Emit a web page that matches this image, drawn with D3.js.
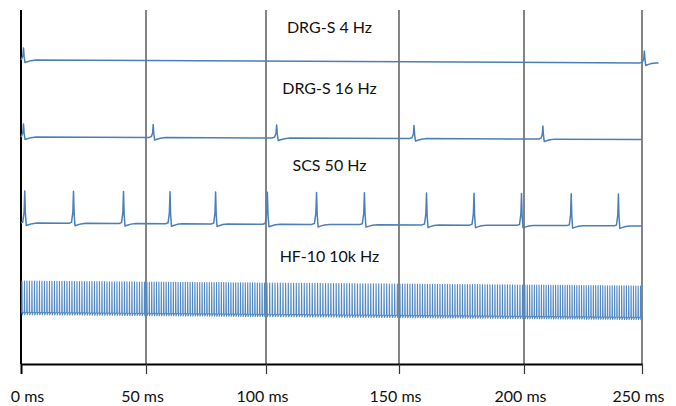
<!DOCTYPE html>
<html>
<head>
<meta charset="utf-8">
<script src="https://cdn.jsdelivr.net/npm/d3@7"></script>
<style>
	html, body { margin: 0; padding: 0; background: #fff; }
	text { font-family: Lato, "Open Sans", sans-serif; fill: #111; }
</style>
</head>
<body>
<svg id="chart" width="676" height="406"></svg>
<script>
// time axis (ms)
const tickValues = [0, 50, 100, 150, 200, 250];
const tickLabels = ['0 ms', '50 ms', '100 ms', '150 ms', '200 ms', '250 ms'];

// waveforms, top to bottom
const traceNames = ['DRG-S 4 Hz', 'DRG-S 16 Hz', 'SCS 50 Hz', 'HF-10 10k Hz'];

// pulse times (ms)
const drg4Spikes = [1, 251];
const drg16Spikes = [1, 53, 104, 156, 208];
const scsSpikes = [1.5, 21, 41, 60, 79, 100.5, 119, 137, 161, 180, 199, 220, 240];
const hfPeriod = 1; // drawn pulse spacing, ms

// trace length (ms), baseline level at start / end and pulse height (arbitrary units)
const traceEnd = [257, 250, 250, 250];
const baseStart = [310, 233, 147, 58];
const baseEnd = [307, 230.5, 144, 53];
const amplitude = [12, 13, 32, 31];

const axisY = 364, gridTop = 10, tickLen = 10;
const traceColor = '#4a7fb8';

const svg = d3.select('#chart');

// the printed grid is hand spaced, so the scale follows it segment by segment
const x = d3.scaleLinear()
	.domain(tickValues)
	.range([21, 146, 266, 399, 524, 642]);

const y = d3.scaleLinear()
	.domain([0, 360])
	.range([370, 10]);

// gridlines
svg.append('g')
	.selectAll('line')
	.data(tickValues)
	.enter()
	.append('line')
	.attr('x1', d => x(d))
	.attr('x2', d => x(d))
	.attr('y1', gridTop)
	.attr('y2', axisY)
	.attr('stroke', (d, i) => i === 0 ? '#000' : '#333')
	.attr('stroke-width', (d, i) => i === 0 ? 2 : 1.2);

// bottom axis
const axis = svg.append('g')
	.attr('transform', `translate(0, ${axisY})`)
	.call(d3.axisBottom(x)
		.tickValues(tickValues)
		.tickFormat((d, i) => tickLabels[i])
		.tickSize(tickLen)
		.tickSizeOuter(0)
		.tickPadding(17));

axis.select('.domain').attr('stroke', '#000').attr('stroke-width', 2);
axis.selectAll('.tick line')
	.attr('stroke', (d, i) => i === 0 ? '#000' : '#333')
	.attr('stroke-width', (d, i) => i === 0 ? 2 : 1.2);
axis.selectAll('.tick text')
	.attr('font-size', 16)
	.attr('font-family', 'Lato, "Open Sans", sans-serif')
	.attr('fill', '#111')
	.attr('dx', (d, i) => i === 0 ? 6 : -4);

// spike outline: [ms offset, share of pulse height, fixed offset]
const spikeShape = [
	[-1.8, 0, 0],
	[-0.8, 0, 0.9],
	[-0.25, 0.35, 0],
	[0, 1, 0],
	[0.25, 0.3, 0],
	[0.6, 0, -2.5],
	[1.5, 0, -1.7],
	[3, 0, -0.6],
	[5, 0, 0]
];

const baseAt = (i, t) => baseStart[i] + (baseEnd[i] - baseStart[i]) * t / traceEnd[i];

const spikePoints = (i, times) => {
	const pts = [[0, baseAt(i, 0)]];
	times.forEach(s => {
		spikeShape.forEach(([dt, k, off]) => {
			const t = s + dt;
			if(t > 0 && t < traceEnd[i]) pts.push([t, baseAt(i, t) + k * amplitude[i] + off]);
		});
	});
	pts.push([traceEnd[i], baseAt(i, traceEnd[i])]);
	return pts.sort((a, b) => a[0] - b[0]);
};

const hfPoints = i => {
	const pts = [[0, baseAt(i, 0)]];
	for(let t = 0.3; t < traceEnd[i]; t += hfPeriod) {
		pts.push([t, baseAt(i, t)]);
		pts.push([t + 0.08, baseAt(i, t) + amplitude[i]]);
		pts.push([t + 0.2, baseAt(i, t) - 2.6]);
		pts.push([t + 0.55, baseAt(i, t) - 0.6]);
	}
	pts.push([traceEnd[i], baseAt(i, traceEnd[i])]);
	return pts;
};

const traces = [
	spikePoints(0, drg4Spikes),
	spikePoints(1, drg16Spikes),
	spikePoints(2, scsSpikes),
	hfPoints(3)
];

const line = d3.line()
	.x(d => x(d[0]))
	.y(d => y(d[1]));

svg.append('g')
	.selectAll('path')
	.data(traces)
	.enter()
	.append('path')
	.attr('d', line)
	.attr('fill', 'none')
	.attr('stroke', (d, i) => i === 3 ? '#5188c2' : traceColor)
	.attr('stroke-width', (d, i) => i === 3 ? 1.1 : 1.5)
	.attr('stroke-linejoin', 'round');

// trace titles, centred over the plot
const labelLift = [27, 43, 52, 50];
svg.append('g')
	.selectAll('text')
	.data(traceNames)
	.enter()
	.append('text')
	.attr('x', (x(0) + x(250)) / 2 - 2)
	.attr('y', (d, i) => y(baseStart[i] + labelLift[i]))
	.attr('text-anchor', 'middle')
	.attr('font-size', 16)
	.text(d => d);
</script>
</body>
</html>
